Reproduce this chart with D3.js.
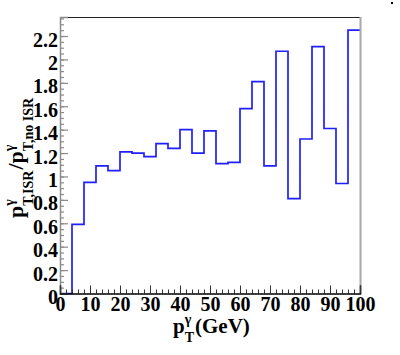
<!DOCTYPE html>
<html><head><meta charset="utf-8">
<script src="https://cdn.jsdelivr.net/npm/d3@7"></script>
<style>
html,body{margin:0;padding:0;background:#fff;}
svg{display:block;}
text{font-family:"Liberation Serif","DejaVu Serif",serif;font-weight:bold;fill:#000;}
</style></head>
<body>
<svg id="c" width="400" height="355"></svg>
<script>
// bin edges (pT in GeV), 25 bins of 4 GeV
const binEdges = [0,4,8,12,16,20,24,28,32,36,40,44,48,52,56,60,64,68,72,76,80,84,88,92,96,100];
// ratio value per bin
const ratioValues = [0,0.59,0.95,1.09,1.05,1.21,1.20,1.17,1.28,1.24,1.40,1.20,1.39,1.11,1.12,1.58,1.81,1.09,2.07,0.81,1.32,2.11,1.41,0.94,2.25];
const xTickValues = [0,10,20,30,40,50,60,70,80,90,100];
const yTickValues = [0,0.2,0.4,0.6,0.8,1,1.2,1.4,1.6,1.8,2,2.2];
const yTickLabels = ["0","0.2","0.4","0.6","0.8","1","1.2","1.4","1.6","1.8","2","2.2"];

const svg = d3.select("#c");
svg.append("rect").attr("width",400).attr("height",355).attr("fill","#fff");

const L=60, R=360, T=17, B=293.5;
const yMax = 2.25*1.05;
const x = d3.scaleLinear().domain([0,100]).range([L,R]);
const y = d3.scaleLinear().domain([0,yMax]).range([B,T]);

// minor ticks
const xMinor = d3.range(0,100.001,2);
const yMinor = d3.range(0,yMax,0.05);

// histogram step line
const pts = [];
ratioValues.forEach((v,i)=>{ pts.push([binEdges[i],v]); pts.push([binEdges[i+1],v]); });
const line = d3.line().x(d=>x(d[0])).y(d=>y(d[1]));
svg.append("path").attr("d",line(pts)).attr("fill","none")
  .attr("stroke","#1f1fff").attr("stroke-width",1.7);

// frame top & right
svg.append("line").attr("x1",L).attr("x2",R).attr("y1",T+0.5).attr("y2",T+0.5).attr("stroke","#222").attr("stroke-width",1);
svg.append("line").attr("x1",R+0.5).attr("x2",R+0.5).attr("y1",T).attr("y2",B+0.5).attr("stroke","#a8a8a8").attr("stroke-width",2);

// Y axis
const gyMin = svg.append("g").attr("transform",`translate(${L},0)`)
  .call(d3.axisLeft(y).tickValues(yMinor).tickSize(-4).tickFormat(""));
const gy = svg.append("g").attr("transform",`translate(${L},0)`)
  .call(d3.axisLeft(y).tickValues(yTickValues).tickSize(-8).tickPadding(2)
    .tickFormat((d,i)=>yTickLabels[i]));
[gyMin,gy].forEach(g=>{
  g.selectAll(".domain").attr("stroke","#8a8a8a").attr("stroke-width",1.5);
  g.selectAll(".tick line").attr("stroke","#8a8a8a").attr("stroke-width",1.2);
});
gy.selectAll(".tick text").attr("font-size",20).attr("font-family",null).attr("fill","#000").attr("dy","0.5em");
gyMin.select(".domain").remove();

// X axis
const gxMin = svg.append("g").attr("transform",`translate(0,${B})`)
  .call(d3.axisBottom(x).tickValues(xMinor).tickSize(-4).tickFormat(""));
const gx = svg.append("g").attr("transform",`translate(0,${B})`)
  .call(d3.axisBottom(x).tickValues(xTickValues).tickSize(-8).tickPadding(3).tickFormat(d3.format("d")));
[gxMin,gx].forEach(g=>{
  g.selectAll(".domain").attr("stroke","#000").attr("stroke-width",1.5);
  g.selectAll(".tick line").attr("stroke","#333").attr("stroke-width",1);
});
gx.selectAll(".tick text").attr("font-size",20).attr("font-family",null).attr("fill","#000").attr("dy","0.72em");
gxMin.select(".domain").remove();

// composite label helper: pieces drawn sequentially; stacked sub/sup
function drawLabel(g, items, main, small){
  let cx = 0;
  items.forEach(it=>{
    if(it.main){
      const t = g.append("text").attr("x",cx).attr("y",0).attr("font-size",main).text(it.main);
      cx += t.node().getComputedTextLength();
    } else {
      let w=0;
      if(it.sup){
        const t = g.append("text").attr("x",cx).attr("y",-main*0.42).attr("font-size",small).text(it.sup);
        w = Math.max(w,t.node().getComputedTextLength());
      }
      if(it.sub){
        const t = g.append("text").attr("x",cx).attr("y",main*0.45).attr("font-size",small).text(it.sub);
        w = Math.max(w,t.node().getComputedTextLength());
      }
      cx += w + 1;
    }
  });
  return cx;
}

// X title
const gxt = svg.append("g").attr("transform","translate(173,333)");
drawLabel(gxt,[{main:"p"},{sup:"γ",sub:"T"},{main:"(GeV)"}],21,14);

// Y title
const gyt = svg.append("g").attr("transform","translate(23,218) rotate(-90)");
drawLabel(gyt,[{main:"p"},{sup:"γ",sub:"T,ISR"},{main:"/p"},{sup:"γ",sub:"T,no ISR"}],22,14);

// small mark at top right
svg.append("rect").attr("x",391).attr("y",2).attr("width",2).attr("height",2).attr("fill","#000");
</script>
</body></html>
